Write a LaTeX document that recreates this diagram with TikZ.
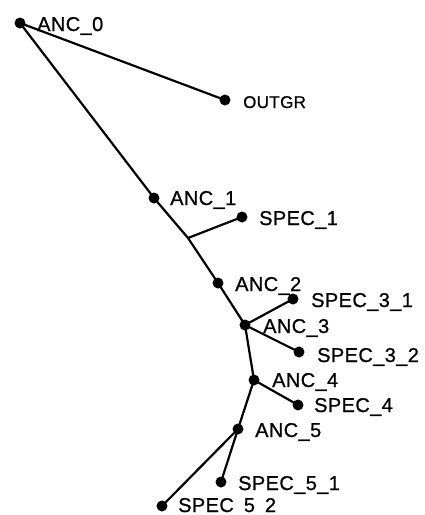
\documentclass[tikz,border=0pt]{standalone}
\usepackage{fontspec}
\setmainfont{Liberation Sans}
\newfontfamily\labfont[FakeBold=0.8,LetterSpace=2]{Liberation Sans}
\begin{document}
\begin{tikzpicture}[x=1pt,y=-1pt,
  dot/.style={circle,fill=black,inner sep=0pt,minimum size=11pt},
  lab/.style={anchor=base west,inner sep=0pt,font=\labfont\fontsize{20}{24}\selectfont},
  smalllab/.style={anchor=base west,inner sep=0pt,font=\labfont\fontsize{17}{20}\selectfont},
  edge/.style={line width=2.2pt,line cap=round}]
\useasboundingbox (0,0) rectangle (424,515);
% dots
\node[dot] (anc0) at (20,23) {};
\node[dot] (outgr) at (225,100) {};
\node[dot] (anc1) at (154,198) {};
\coordinate (j1) at (188,238);
\node[dot] (spec1) at (242,217) {};
\node[dot] (anc2) at (218,283) {};
\node[dot] (anc3) at (245,325) {};
\node[dot] (spec31) at (293,299) {};
\node[dot] (spec32) at (299,352) {};
\node[dot] (anc4) at (254,380) {};
\node[dot] (spec4) at (298,405) {};
\node[dot] (anc5) at (238,429) {};
\node[dot] (spec51) at (221,482) {};
\node[dot] (spec52) at (162,506) {};
% edges
\draw[edge] (anc0.center) -- (outgr.center);
\draw[edge] (anc0.center) -- (anc1.center);
\draw[edge] (anc1.center) -- (j1) -- (anc2.center);
\draw[edge] (j1) -- (spec1.center);
\draw[edge] (anc2.center) -- (anc3.center);
\draw[edge] (anc3.center) -- (spec31.center);
\draw[edge] (anc3.center) -- (spec32.center);
\draw[edge] (anc3.center) -- (anc4.center);
\draw[edge] (anc4.center) -- (spec4.center);
\draw[edge] (anc4.center) -- (anc5.center);
\draw[edge] (anc5.center) -- (spec51.center);
\draw[edge] (anc5.center) -- (spec52.center);
% labels
\node[lab] (lanc0) at (37,31) {ANC\_0};
\node[smalllab] (loutgr) at (243,108) {OUTGR};
\node[lab] (lanc1) at (170,205) {ANC\_1};
\node[lab] (lspec1) at (259,225) {SPEC\_1};
\node[lab] (lanc2) at (235,291) {ANC\_2};
\node[lab] (lspec31) at (311,307) {SPEC\_3\_1};
\node[lab] (lanc3) at (263,333) {ANC\_3};
\node[lab] (lspec32) at (317,362) {SPEC\_3\_2};
\node[lab] (lanc4) at (272,387) {ANC\_4};
\node[lab] (lspec4) at (314,412) {SPEC\_4};
\node[lab] (lanc5) at (255,437) {ANC\_5};
\node[lab] (lspec51) at (238,490) {SPEC\_5\_1};
\node[lab] (lspec52) at (178,512) {SPEC\enspace5\enspace2};
\end{tikzpicture}
\end{document}
